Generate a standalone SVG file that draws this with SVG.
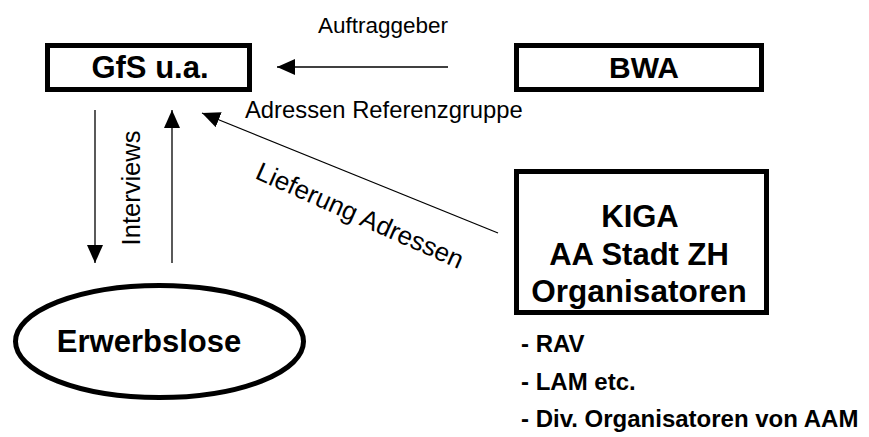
<svg xmlns="http://www.w3.org/2000/svg" width="869" height="437" viewBox="0 0 869 437">
<defs>
<style>
.box{fill:#fff;stroke:#000;stroke-width:5}
.bold{font-family:"Liberation Sans",Arial,sans-serif;font-weight:bold;fill:#000}
.lbl{font-family:"Liberation Sans",Arial,sans-serif;fill:#000}
.con{stroke:#000;stroke-width:1.3;fill:none}
</style>
<marker id="ah" markerUnits="userSpaceOnUse" markerWidth="20" markerHeight="18" refX="18" refY="8" orient="auto">
<path d="M0,0 L18,8 L0,16 Z" fill="#000"/>
</marker>
</defs>
<rect width="869" height="437" fill="#fff"/>
<g id="gfs">
<rect class="box" x="47.5" y="45.5" width="202" height="44"/>
<text class="bold" x="150" y="78" font-size="31" text-anchor="middle">GfS u.a.</text>
</g>
<g id="bwa">
<rect class="box" x="516.5" y="45.5" width="245" height="44"/>
<text class="bold" x="644" y="78" font-size="30" text-anchor="middle">BWA</text>
</g>
<g id="kiga">
<rect class="box" x="516.5" y="171.5" width="250" height="141"/>
<text class="bold" x="640" y="227" font-size="31" text-anchor="middle">KIGA</text>
<text class="bold" x="639" y="265" font-size="31" text-anchor="middle">AA Stadt ZH</text>
<text class="bold" x="639" y="302" font-size="31.5" text-anchor="middle">Organisatoren</text>
<text class="bold" x="521" y="352" font-size="24">- RAV</text>
<text class="bold" x="521" y="390" font-size="24">- LAM etc.</text>
<text class="bold" x="521" y="427" font-size="24">- Div. Organisatoren von AAM</text>
</g>
<g id="erwerbslose">
<ellipse class="box" cx="159.5" cy="341.5" rx="144" ry="56"/>
<text class="bold" x="149" y="352" font-size="31" text-anchor="middle">Erwerbslose</text>
</g>
<g id="connectors">
<line class="con" x1="448" y1="67" x2="277" y2="67" marker-end="url(#ah)"/>
<line class="con" x1="498" y1="233" x2="202" y2="113" marker-end="url(#ah)"/>
<line class="con" x1="95" y1="110" x2="95" y2="263" marker-end="url(#ah)"/>
<line class="con" x1="172" y1="263" x2="172" y2="110" marker-end="url(#ah)"/>
</g>
<g id="labels">
<text class="lbl" x="383" y="33" font-size="22.5" text-anchor="middle">Auftraggeber</text>
<text class="lbl" x="245" y="118" font-size="23.8">Adressen Referenzgruppe</text>
<text class="lbl" transform="translate(140,188) rotate(-90)" font-size="25.5" text-anchor="middle">Interviews</text>
<text class="lbl" transform="translate(254,178) rotate(24)" font-size="26">Lieferung Adressen</text>
</g>
</svg>
